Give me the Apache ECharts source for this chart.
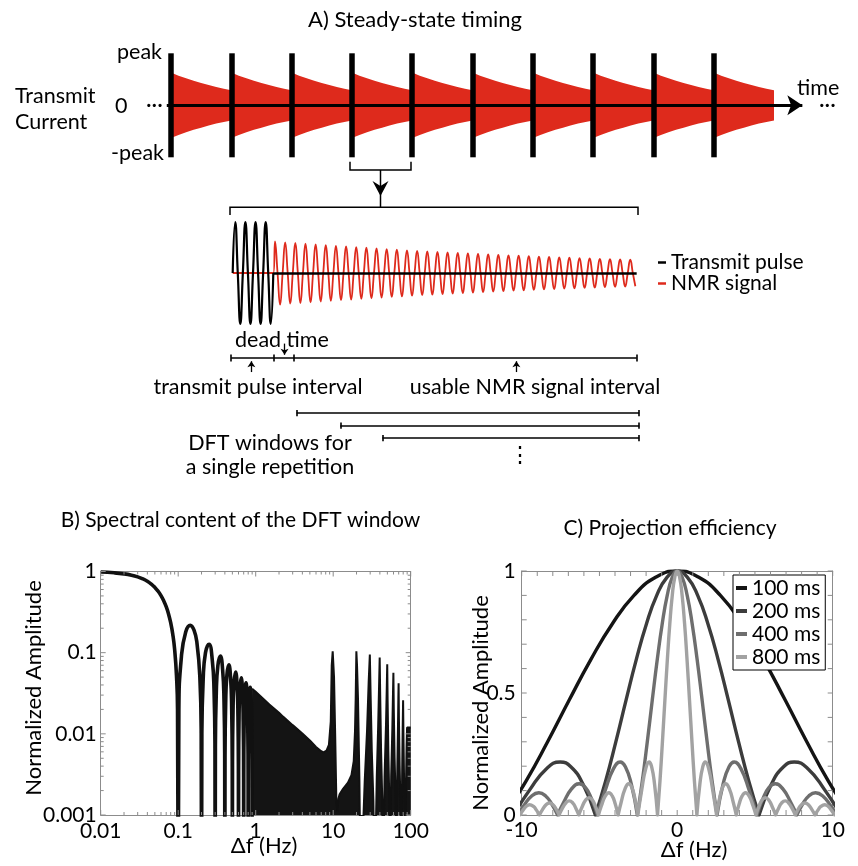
<!DOCTYPE html>
<html>
<head>
<meta charset="utf-8">
<script src="https://cdn.jsdelivr.net/npm/echarts@6/dist/echarts.min.js"></script>
<style>
  html, body { margin: 0; padding: 0; background: #fff; }
  #chart { width: 858px; height: 866px; }
</style>
</head>
<body>
<div id="chart"></div>
<script>
// ---------- data ----------
// A) top strip: repetitions and the decay envelope inside one repetition (fraction of peak, 1/8 steps)
const repetitions = [0, 1, 2, 3, 4, 5, 6, 7, 8, 9];
const decayEnvelope = [0.63, 0.57, 0.52, 0.47, 0.43, 0.39, 0.35, 0.32, 0.29];
const timeAxisEnd = 10.47;

// A) zoomed repetition, time in oscillation cycles, amplitude relative to transmit pulse
const pulseAmp = [1, 1, 1, 1];
const nmrFirstPeak = 4.17;
const nmrAmp = [0.62, 0.60, 0.59, 0.575, 0.56, 0.545, 0.53, 0.52, 0.505, 0.495,
  0.48, 0.47, 0.46, 0.445, 0.435, 0.425, 0.415, 0.405, 0.395, 0.385,
  0.375, 0.365, 0.355, 0.345, 0.34, 0.33, 0.32, 0.315, 0.305, 0.30,
  0.29, 0.285, 0.275, 0.27, 0.265, 0.26];
const baselineEnd = 39.8;
const timelineMarks = [-0.15, 4.05, 6.0, 39.8];
const upArrowAt = [1.84, 27.95];
const deadTimeArrowAt = 5.11;
const dftStarts = [6.3, 10.6, 14.75];
const dftEnd = 40.05;

// B) spectral content, zeros written as 0
const bXTicks = [0.01, 0.1, 1, 10, 100];
const bYTicks = [0.001, 0.01, 0.1, 1];
const bMainLobe = [[0.01, 0.984], [0.015, 0.963], [0.02, 0.935], [0.025, 0.9], [0.03, 0.858],
  [0.035, 0.81], [0.04, 0.757], [0.045, 0.699], [0.05, 0.637], [0.055, 0.572], [0.06, 0.505],
  [0.065, 0.436], [0.07, 0.368], [0.075, 0.3], [0.08, 0.234], [0.085, 0.17], [0.09, 0.109],
  [0.095, 0.0524], [0.098, 0.0204], [0.1, 0]];
const bSideLobes = [
  [0.102, 0.0196], [0.11, 0.0894], [0.125, 0.18], [0.143, 0.217], [0.16, 0.189], [0.175, 0.129], [0.19, 0.0518], [0.198, 0.0101], [0.2, 0],
  [0.202, 0.0099], [0.21, 0.0468], [0.225, 0.1], [0.25, 0.127], [0.275, 0.0818], [0.29, 0.0339], [0.298, 0.0067], [0.3, 0],
  [0.302, 0.0066], [0.31, 0.0317], [0.325, 0.0693], [0.35, 0.0909], [0.375, 0.06], [0.39, 0.0252], [0.398, 0.005], [0.4, 0],
  [0.402, 0.005], [0.41, 0.024], [0.425, 0.053], [0.45, 0.0707], [0.475, 0.0474], [0.49, 0.0201], [0.498, 0.004], [0.5, 0],
  [0.502, 0.004], [0.51, 0.0193], [0.525, 0.0429], [0.55, 0.0579], [0.575, 0.0392], [0.59, 0.0167], [0.598, 0.0033], [0.6, 0],
  [0.602, 0.0033], [0.61, 0.0161], [0.625, 0.036], [0.65, 0.049], [0.675, 0.0333], [0.69, 0.0143], [0.698, 0.0029], [0.7, 0],
  [0.702, 0.0029], [0.71, 0.0139], [0.725, 0.031], [0.75, 0.0424], [0.775, 0.029], [0.79, 0.0125], [0.798, 0.0025], [0.8, 0],
  [0.802, 0.0025], [0.81, 0.0121], [0.825, 0.0273], [0.85, 0.0375], [0.875, 0.0257], [0.89, 0.011], [0.898, 0.0022], [0.9, 0]];
const bDense = [[0.9, 0.036], [1, 0.033], [1.5, 0.023], [2, 0.0182], [2.25, 0.0163], [3, 0.0128],
  [4, 0.0101], [5, 0.0083], [6, 0.0069], [7, 0.0061], [7.5, 0.0059], [8.2, 0.0062], [8.8, 0.0073],
  [9.3, 0.0142], [9.57, 0.07], [9.85, 0.104], [10, 0.107], [10.25, 0.05], [10.6, 0.01], [11.0, 0.0014],
  [11.3, 0.0011], [11.7, 0.0016], [12.1, 0.0018], [13.4, 0.0021], [15.5, 0.0025], [17.2, 0.0031],
  [18.4, 0.0046], [19.1, 0.0107], [19.5, 0.027], [19.9, 0.104], [20.3, 0.07], [20.9, 0.027], [21.8, 0.0026], [22.6, 0],
  [23.8, 0], [25.5, 0.0026], [27.3, 0.0107], [28.7, 0.044], [29.7, 0.095], [30.4, 0.03], [31.5, 0.006], [33, 0.0015], [34.3, 0],
  [35, 0], [36.5, 0.003], [38, 0.012], [39.2, 0.045], [39.8, 0.087], [40.4, 0.03], [41.5, 0.006], [43, 0.0015], [43.8, 0],
  [44.4, 0], [46, 0.003], [48, 0.013], [49.2, 0.04], [49.8, 0.072], [50.4, 0.025], [51.5, 0.006], [53, 0.0015], [53.8, 0],
  [54.4, 0], [56, 0.003], [58, 0.012], [59.2, 0.035], [59.8, 0.0565], [60.5, 0.02], [62, 0.005], [64, 0.0015], [65, 0],
  [65.6, 0], [67, 0.003], [68.5, 0.012], [69.3, 0.028], [69.8, 0.042], [70.5, 0.015], [72, 0.004], [74, 0.0012], [75.5, 0],
  [76, 0], [77.5, 0.003], [78.8, 0.012], [79.8, 0.026], [80.6, 0.01], [82, 0.003], [84, 0.001], [85, 0],
  [85.6, 0], [87, 0.0025], [88.5, 0.007], [89.8, 0.012], [92, 0.012], [100, 0.012]];
const bFloor = 0.0001;

// C) projection efficiency, right halves (Hz, amplitude), zeros written as 0
const cXTicks = [-10, -9, -8, -7, -6, -5, -4, -3, -2, -1, 0, 1, 2, 3, 4, 5, 6, 7, 8, 9, 10];
const cYTicks = [0, 0.1, 0.2, 0.3, 0.4, 0.5, 0.6, 0.7, 0.8, 0.9, 1];
const cNames = ['100 ms', '200 ms', '400 ms', '800 ms'];
const cColors = ['#141414', '#3c3c3c', '#6e6e6e', '#a2a2a2'];
const c100 = [[0, 1], [1.389, 0.974], [2.778, 0.9], [4.167, 0.784], [5.556, 0.637], [6.944, 0.471],
  [8.333, 0.3], [9.722, 0.139], [11.11, 0]];
const c200 = [[0, 1], [0.658, 0.974], [1.316, 0.9], [1.974, 0.784], [2.632, 0.637], [3.289, 0.471],
  [3.947, 0.3], [4.605, 0.139], [5.263, 0], [6.053, 0.126], [6.842, 0.198], [7.526, 0.217],
  [8.421, 0.189], [9.474, 0.104], [10.526, 0]];
const c400 = [[0, 1], [0.321, 0.974], [0.641, 0.9], [0.962, 0.784], [1.282, 0.637], [1.603, 0.471],
  [1.923, 0.3], [2.244, 0.139], [2.564, 0], [2.949, 0.126], [3.333, 0.198], [3.667, 0.217],
  [4.103, 0.189], [4.615, 0.104], [5.128, 0], [5.513, 0.067], [5.897, 0.112], [6.308, 0.128],
  [6.795, 0.107], [7.308, 0.051], [7.692, 0], [8.077, 0.046], [8.462, 0.078], [8.897, 0.091],
  [9.359, 0.078], [9.872, 0.038], [10.256, 0]];
const c800 = [[0, 1], [0.158, 0.974], [0.317, 0.9], [0.475, 0.784], [0.633, 0.637], [0.791, 0.471],
  [0.95, 0.3], [1.108, 0.139], [1.266, 0], [1.456, 0.126], [1.646, 0.198], [1.81, 0.217],
  [2.026, 0.189], [2.279, 0.104], [2.532, 0], [2.722, 0.067], [2.912, 0.112], [3.114, 0.128],
  [3.355, 0.107], [3.608, 0.051], [3.798, 0], [3.988, 0.046], [4.178, 0.078], [4.393, 0.091],
  [4.621, 0.078], [4.874, 0.038], [5.064, 0], [5.254, 0.035], [5.444, 0.06], [5.672, 0.071],
  [5.887, 0.061], [6.14, 0.03], [6.33, 0], [6.52, 0.028], [6.71, 0.049], [6.95, 0.058],
  [7.153, 0.05], [7.406, 0.025], [7.596, 0], [7.786, 0.024], [7.976, 0.041], [8.216, 0.049],
  [8.419, 0.043], [8.672, 0.021], [8.862, 0], [9.052, 0.02], [9.242, 0.035], [9.495, 0.042],
  [9.685, 0.037], [9.938, 0.018], [10.128, 0]];

// ---------- helpers ----------
const FONT = 'Lato, "Noto Sans", sans-serif';
const RED = '#de2a1c';
const FRAME = '#8c8c8c';

// break the line at every zero so the lobes keep sharp cusps
function withCusps(points, floor) {
  const out = [];
  points.forEach((p, i) => {
    const y = p[1] === 0 ? floor : p[1];
    out.push([p[0], y]);
    if (p[1] === 0 && i > 0 && i < points.length - 1) {
      out.push([p[0], '-']);
      out.push([p[0], y]);
    }
  });
  return out;
}
const mirror = (right) => right.slice(1).map(p => [-p[0], p[1]]).reverse().concat(right);

// A top: red envelopes
const envUpper = [], envLower = [];
repetitions.forEach(k => {
  decayEnvelope.forEach((a, j) => {
    const x = k + j / (decayEnvelope.length - 1);
    envUpper.push([x, a]);
    envLower.push([x, -a]);
  });
});

// A zoom: waveforms from the read amplitudes
const pulseLine = [];
pulseAmp.forEach((a, k) => {
  pulseLine.push([k, 0], [k + 0.25, a], [k + 0.5, 0], [k + 0.75, -a]);
});
pulseLine.push([pulseAmp.length, 0]);
const nmrLine = [[0, 0], [pulseAmp.length, 0]];
nmrAmp.forEach((a, k) => {
  const t = nmrFirstPeak + k;
  nmrLine.push([t, a], [t + 0.25, 0], [t + 0.5, -a]);
  if (k < nmrAmp.length - 1) nmrLine.push([t + 0.75, 0]);
});

// B minor ticks (2..9 in each decade)
const bMinorX = [], bMinorY = [];
bXTicks.slice(0, -1).forEach(d => { for (let m = 2; m < 10; m++) bMinorX.push(d * m); });
bYTicks.slice(0, -1).forEach(d => { for (let m = 2; m < 10; m++) bMinorY.push(d * m); });

const chart = echarts.init(document.getElementById('chart'));

const hiddenAxis = (grid, min, max, extra) => Object.assign({
  gridIndex: grid, type: 'value', min: min, max: max, show: false
}, extra || {});

const frameLine = { show: true, onZero: false, lineStyle: { color: FRAME, width: 1 } };
const labelStyle = { color: '#000', fontSize: 21, fontFamily: FONT };

// inward ticks on all four sides of a plot, drawn through the axes
function tickSeries(axisIdx, xTicks, yTicks, xRange, yRange) {
  const st = { stroke: FRAME, lineWidth: 1 };
  const data = xTicks.map(t => [t[0], yRange[0], 0, t[1]])
    .concat(yTicks.map(t => [xRange[0], t[0], 1, t[1]]));
  return {
    type: 'custom', xAxisIndex: axisIdx, yAxisIndex: axisIdx, z: 6, silent: true, clip: false,
    data: data, encode: { x: 0, y: 1 },
    renderItem: (params, api) => {
      const isY = api.value(2) === 1, len = api.value(3);
      if (!isY) {
        const v = api.value(0);
        const b = api.coord([v, yRange[0]]), t = api.coord([v, yRange[1]]);
        return { type: 'group', children: [
          { type: 'line', shape: { x1: b[0], y1: b[1], x2: b[0], y2: b[1] - len }, style: st },
          { type: 'line', shape: { x1: t[0], y1: t[1], x2: t[0], y2: t[1] + len }, style: st }
        ] };
      }
      const v = api.value(1);
      const l = api.coord([xRange[0], v]), r = api.coord([xRange[1], v]);
      return { type: 'group', children: [
        { type: 'line', shape: { x1: l[0], y1: l[1], x2: l[0] + len, y2: l[1] }, style: st },
        { type: 'line', shape: { x1: r[0], y1: r[1], x2: r[0] - len, y2: r[1] }, style: st }
      ] };
    }
  };
}

function text(t, x, y, opt) {
  opt = opt || {};
  return {
    type: 'text', x: x, y: y, rotation: opt.rotation || 0, z: 10,
    style: {
      text: t, fill: '#000', fontSize: opt.size || 21.5, fontFamily: FONT,
      align: opt.align || 'center', verticalAlign: 'middle'
    }
  };
}

const lineSeg = (coords) => ({ coords: coords });

const option = {
  animation: false,
  backgroundColor: '#fff',
  grid: [
    { left: 171 - 0.2 * 60.3, top: 53.3, width: 11 * 60.3, height: 104, outerBoundsMode: 'none' },
    { left: 232.7 - 10.15, top: 222, width: 42 * 10.15, height: 102, outerBoundsMode: 'none' },
    { left: 232.7 - 10.15, top: 340, width: 42 * 10.15, height: 36, outerBoundsMode: 'none' },
    { left: 232.7 - 10.15, top: 406.75, width: 42 * 10.15, height: 37.5, outerBoundsMode: 'none' },
    { left: 100.7, top: 571.5, width: 310, height: 243.5, outerBoundsMode: 'none' },
    { left: 521.7, top: 571, width: 311, height: 244, outerBoundsMode: 'none' }
  ],
  xAxis: [
    hiddenAxis(0, -0.2, 10.8),
    hiddenAxis(1, -1, 41),
    hiddenAxis(2, -1, 41),
    hiddenAxis(3, -1, 41),
    {
      gridIndex: 4, type: 'log', logBase: 10, min: 0.01, max: 100,
      axisLine: frameLine, axisTick: { show: false }, splitLine: { show: false },
      axisLabel: Object.assign({ margin: 6, formatter: v => String(+v.toPrecision(3)) }, labelStyle)
    },
    {
      gridIndex: 4, type: 'log', logBase: 10, min: 0.01, max: 100, position: 'top',
      axisLine: frameLine, axisTick: { show: false }, splitLine: { show: false }, axisLabel: { show: false }
    },
    {
      gridIndex: 5, type: 'value', min: -10, max: 10, interval: 1,
      axisLine: frameLine, axisTick: { show: false }, splitLine: { show: false },
      axisLabel: Object.assign({ margin: 5, formatter: v => (v % 10 === 0 ? String(v) : '') }, labelStyle)
    },
    {
      gridIndex: 5, type: 'value', min: -10, max: 10, interval: 1, position: 'top',
      axisLine: frameLine, axisTick: { show: false }, splitLine: { show: false }, axisLabel: { show: false }
    }
  ],
  yAxis: [
    hiddenAxis(0, -1, 1),
    hiddenAxis(1, -1, 1),
    hiddenAxis(2, -1, 1),
    hiddenAxis(3, -0.5, 2.5, { inverse: true }),
    {
      gridIndex: 4, type: 'log', logBase: 10, min: 0.001, max: 1,
      axisLine: frameLine, axisTick: { show: false }, splitLine: { show: false },
      axisLabel: Object.assign({ margin: 4, formatter: v => String(+v.toPrecision(3)) }, labelStyle)
    },
    {
      gridIndex: 4, type: 'log', logBase: 10, min: 0.001, max: 1, position: 'right',
      axisLine: frameLine, axisTick: { show: false }, splitLine: { show: false }, axisLabel: { show: false }
    },
    {
      gridIndex: 5, type: 'value', min: 0, max: 1, interval: 0.1, position: 'left',
      axisLine: frameLine, axisTick: { show: false }, splitLine: { show: false },
      axisLabel: Object.assign({
        margin: 6,
        formatter: v => (Math.abs(v) < 1e-9 ? '0' : Math.abs(v - 0.5) < 1e-9 ? '0.5' : Math.abs(v - 1) < 1e-9 ? '1' : '')
      }, labelStyle)
    },
    {
      gridIndex: 5, type: 'value', min: 0, max: 1, interval: 0.1, position: 'right',
      axisLine: frameLine, axisTick: { show: false }, splitLine: { show: false }, axisLabel: { show: false }
    }
  ],
  legend: [
    {
      data: ['Transmit pulse', 'NMR signal'], orient: 'vertical', left: 658, top: 252,
      icon: 'rect', itemWidth: 8, itemHeight: 2.5, itemGap: 0, padding: 0,
      selectedMode: false,
      textStyle: { fontSize: 21, fontFamily: FONT, color: '#000', lineHeight: 19 }
    },
    {
      data: cNames, orient: 'vertical', left: 733, top: 575,
      icon: 'rect', itemWidth: 11, itemHeight: 4, itemGap: 1, padding: [2, 5, 2, 3],
      borderColor: '#000', borderWidth: 1, backgroundColor: '#fff', selectedMode: false,
      textStyle: { fontSize: 21, fontFamily: FONT, color: '#000', lineHeight: 22 }
    }
  ],
  series: [
    // ---- A top ----
    {
      type: 'line', xAxisIndex: 0, yAxisIndex: 0, data: envUpper, symbol: 'none', z: 2,
      lineStyle: { width: 0 }, itemStyle: { color: RED }, areaStyle: { color: RED, opacity: 1 }
    },
    {
      type: 'line', xAxisIndex: 0, yAxisIndex: 0, data: envLower, symbol: 'none', z: 2,
      lineStyle: { width: 0 }, itemStyle: { color: RED }, areaStyle: { color: RED, opacity: 1 }
    },
    {
      type: 'lines', coordinateSystem: 'cartesian2d', xAxisIndex: 0, yAxisIndex: 0, z: 4, clip: false,
      data: repetitions.map(k => lineSeg([[k, -1], [k, 1]])),
      lineStyle: { color: '#000', width: 5.5, opacity: 1, cap: 'butt' }
    },
    {
      type: 'lines', coordinateSystem: 'cartesian2d', xAxisIndex: 0, yAxisIndex: 0, z: 5, clip: false,
      symbol: ['none', 'arrow'], symbolSize: 15,
      data: [lineSeg([[-0.07, 0], [timeAxisEnd, 0]])],
      lineStyle: { color: '#000', width: 3, opacity: 1 }
    },
    // ---- A zoom ----
    {
      name: 'NMR signal', type: 'line', xAxisIndex: 1, yAxisIndex: 1, data: nmrLine, smooth: 0.5,
      symbol: 'none', z: 3, clip: false,
      lineStyle: { color: RED, width: 1.8 }, itemStyle: { color: RED }
    },
    {
      name: 'Transmit pulse', type: 'line', xAxisIndex: 1, yAxisIndex: 1, data: pulseLine, smooth: 0.5,
      symbol: 'none', z: 4, clip: false,
      lineStyle: { color: '#000', width: 2.2 }, itemStyle: { color: '#000' }
    },
    {
      type: 'lines', coordinateSystem: 'cartesian2d', xAxisIndex: 1, yAxisIndex: 1, z: 5,
      data: [lineSeg([[pulseAmp.length, 0], [baselineEnd, 0]])],
      lineStyle: { color: '#000', width: 2.5, opacity: 1 }
    },
    // ---- A timeline ----
    {
      type: 'lines', coordinateSystem: 'cartesian2d', xAxisIndex: 2, yAxisIndex: 2, z: 5, clip: false,
      data: [lineSeg([[timelineMarks[0], 0], [timelineMarks[timelineMarks.length - 1], 0]])]
        .concat(timelineMarks.map(t => lineSeg([[t, -0.2], [t, 0.2]]))),
      lineStyle: { color: '#000', width: 1.6, opacity: 1 }
    },
    {
      type: 'lines', coordinateSystem: 'cartesian2d', xAxisIndex: 2, yAxisIndex: 2, z: 5, clip: false,
      symbol: ['none', 'arrow'], symbolSize: 6,
      data: upArrowAt.map(t => lineSeg([[t, -0.78], [t, -0.18]]))
        .concat([lineSeg([[deadTimeArrowAt, 0.8], [deadTimeArrowAt, 0.18]])]),
      lineStyle: { color: '#000', width: 1.3, opacity: 1 }
    },
    {
      type: 'lines', coordinateSystem: 'cartesian2d', xAxisIndex: 3, yAxisIndex: 3, z: 5, clip: false,
      data: dftStarts.map((s, i) => lineSeg([[s, i], [dftEnd, i]]))
        .concat(dftStarts.map((s, i) => lineSeg([[s, i - 0.25], [s, i + 0.25]])))
        .concat(dftStarts.map((s, i) => lineSeg([[dftEnd, i - 0.25], [dftEnd, i + 0.25]]))),
      lineStyle: { color: '#000', width: 1.6, opacity: 1 }
    },
    // ---- B ----
    {
      type: 'line', xAxisIndex: 4, yAxisIndex: 4, data: withCusps(bDense.map(p => [p[0], p[1] || bFloor]), bFloor),
      symbol: 'none', z: 3, lineStyle: { color: '#111', width: 2 }, itemStyle: { color: '#111' },
      areaStyle: { color: '#141414', opacity: 1, origin: 'start' }
    },
    {
      type: 'line', xAxisIndex: 4, yAxisIndex: 4, data: withCusps(bMainLobe.concat(bSideLobes), bFloor),
      smooth: 0.5, symbol: 'none', z: 4, lineStyle: { color: '#111', width: 3.6 }, itemStyle: { color: '#111' }
    },
    tickSeries(4,
      bXTicks.map(v => [v, 5]).concat(bMinorX.map(v => [v, 3])),
      bYTicks.map(v => [v, 5]).concat(bMinorY.map(v => [v, 3])),
      [0.01, 100], [0.001, 1]),
    tickSeries(6,
      cXTicks.map(v => [v, 5]),
      cYTicks.map(v => [v, 5]),
      [-10, 10], [0, 1])
  ].concat([c100, c200, c400, c800].map((d, i) => ({
    name: cNames[i], type: 'line', xAxisIndex: 6, yAxisIndex: 6,
    data: withCusps(mirror(d), 0), smooth: 0.5, symbol: 'none', z: 3 + i,
    lineStyle: { color: cColors[i], width: 3.4, cap: 'round' }, itemStyle: { color: cColors[i] }
  }))),
  graphic: [
    // panel A texts
    text('A) Steady-state timing', 415, 20, { size: 22 }),
    text('peak', 162, 52, { align: 'right' }),
    text('-peak', 164, 153, { align: 'right' }),
    text('0', 115, 106, { align: 'left' }),
    text('\u00b7\u00b7\u00b7', 146, 105, { align: 'left' }),
    text('Transmit', 15, 96, { align: 'left' }),
    text('Current', 15, 122, { align: 'left' }),
    text('time', 797, 88, { align: 'left' }),
    text('\u00b7\u00b7\u00b7', 819, 105, { align: 'left' }),
    text('dead time', 235, 340, { align: 'left' }),
    text('transmit pulse interval', 258, 387),
    text('usable NMR signal interval', 535, 387),
    text('DFT windows for', 270, 443),
    text('a single repetition', 270, 467),
    text('\u22ee', 520, 455),
    // brackets and connector
    { type: 'polyline', z: 10, shape: { points: [[350, 161.7], [350, 170], [411, 170], [411, 161.7]] },
      style: { stroke: '#000', lineWidth: 1.5, fill: null } },
    { type: 'polyline', z: 10, shape: { points: [[380.5, 170], [380.5, 207.3]] },
      style: { stroke: '#000', lineWidth: 1.5, fill: null } },
    { type: 'polygon', z: 10, shape: { points: [[372.5, 181], [380.5, 186], [388.5, 181], [380.5, 196]] },
      style: { fill: '#000' } },
    { type: 'polyline', z: 10, shape: { points: [[230, 215], [230, 207.3], [638, 207.3], [638, 215]] },
      style: { stroke: '#000', lineWidth: 1.5, fill: null } },
    // panel B and C titles and axis names
    text('B) Spectral content of the DFT window', 240.5, 520.5, { size: 21 }),
    text('C) Projection efficiency', 670, 528, { size: 21 }),
    text('\u0394f (Hz)', 264, 846, { size: 22 }),
    text('\u0394f (Hz)', 694, 850, { size: 22 }),
    text('Normalized Amplitude', 34.3, 688, { size: 22, rotation: Math.PI / 2 }),
    text('Normalized Amplitude', 481, 703, { size: 22, rotation: Math.PI / 2 })
  ]
};

chart.setOption(option);
window.addEventListener('resize', () => chart.resize());
</script>
</body>
</html>
